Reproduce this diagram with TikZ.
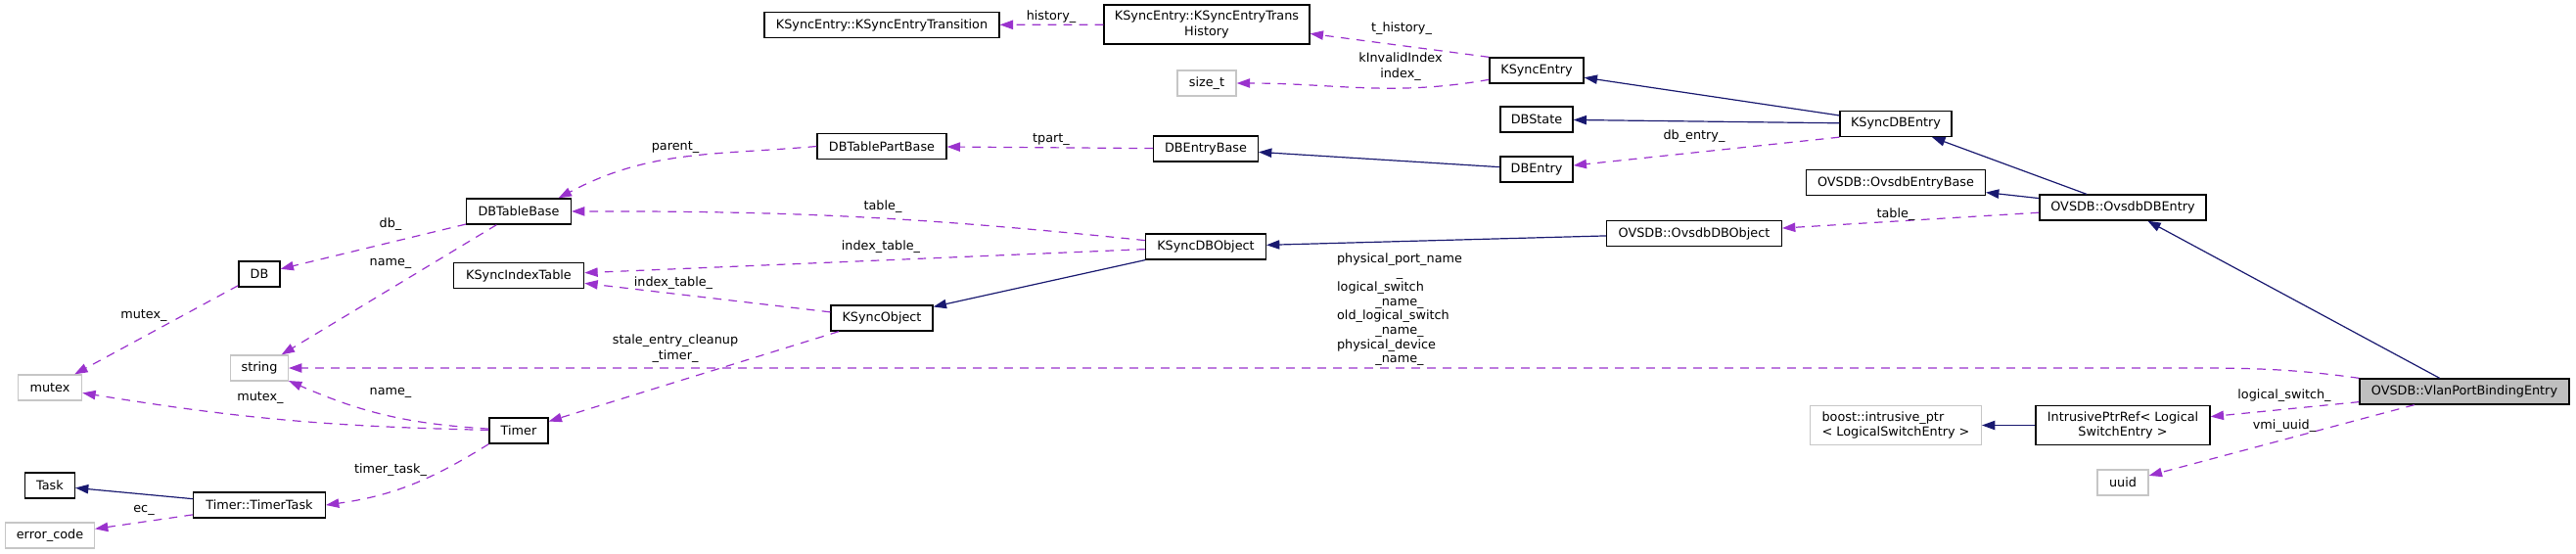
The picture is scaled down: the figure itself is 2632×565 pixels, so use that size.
\documentclass[tikz,border=0pt]{standalone}
\usepackage{fontspec}
\setmainfont{DejaVu Sans}
\usepackage{xcolor}
\usepackage{tikz}
\usetikzlibrary{arrows.meta}
\definecolor{inhcol}{HTML}{191970}
\definecolor{usecol}{HTML}{9A32CD}
\newcommand{\dotfont}{\fontsize{9.6pt}{11.5pt}\selectfont}
\tikzset{
  inherit/.style = {-{Triangle[length=10pt, width=7pt]}, draw=inhcol,
                    line width=0.9pt},
  usage/.style   = {-{Triangle[length=10pt, width=7pt]}, draw=usecol,
                    line width=0.9pt, dash pattern=on 6.5pt off 5.5pt},
  cls/.style     = {draw=black, fill=white, line width=1pt,
                    minimum height=19.5pt, inner xsep=3pt, inner ysep=2pt,
                    align=center, font=\dotfont},
  extcls/.style  = {cls, draw=gray!45},
  curcls/.style  = {cls, fill=gray!50},
  lbl/.style     = {font=\dotfont, inner sep=0pt, align=center},
}

\begin{document}
\begin{tikzpicture}[x=0.75pt, y=0.75pt]
\useasboundingbox (0,0) rectangle (2632,-565);

% ========== KSync entries ==========
\node[cls, minimum width=180pt] (ksetrans) at (901,-25.5) {KSyncEntry::KSyncEntryTransition};
\node[cls, minimum width=157.5pt, minimum height=30pt] (kshistory) at (1233,-25)
  {KSyncEntry::KSyncEntryTrans\\History};
\node[extcls, minimum width=45pt] (sizet) at (1233,-85) {size\_t};
\node[cls, minimum width=72pt] (ksyncentry) at (1570,-72) {KSyncEntry};
\node[cls, minimum width=55.5pt] (dbstate) at (1570,-122) {DBState};
\node[cls, minimum width=85.5pt] (ksyncdbentry) at (1937,-126.5) {KSyncDBEntry};
\node[cls, minimum width=55.5pt] (dbentry) at (1570,-173) {DBEntry};
\node[cls, minimum width=80pt] (dbentrybase) at (1232,-152) {DBEntryBase};
\node[cls, minimum width=99pt] (dbtablepartbase) at (901,-149.5) {DBTablePartBase};

% ========== OVSDB classes ==========
\node[cls, minimum width=137pt] (ovsdbentrybase) at (1937,-186.5) {OVSDB::OvsdbEntryBase};
\node[cls, minimum width=127.5pt] (ovsdbdbentry) at (2169,-212) {OVSDB::OvsdbDBEntry};
\node[cls, minimum width=134pt] (ovsdbdbobject) at (1731,-238.5) {OVSDB::OvsdbDBObject};
\node[curcls, minimum width=160.5pt] (vlanport) at (2518,-400) {OVSDB::VlanPortBindingEntry};
\node[cls, minimum width=133.5pt, minimum height=30pt] (intrusiveref) at (2169,-434.5)
  {IntrusivePtrRef< Logical\\SwitchEntry >};
\node[extcls, minimum width=131pt, minimum height=30pt, align=left] (boostptr) at (1937,-434.5)
  {boost::intrusive\_ptr\\< LogicalSwitchEntry >};
\node[extcls, minimum width=39pt] (uuid) at (2169,-493) {uuid};

% ========== DB tables and objects ==========
\node[cls, minimum width=92pt] (ksyncdbobject) at (1232,-252) {KSyncDBObject};
\node[cls, minimum width=78pt] (ksyncobject) at (901,-325) {KSyncObject};
\node[cls, minimum width=80pt] (dbtablebase) at (530,-216) {DBTableBase};
\node[cls, minimum width=100pt] (ksyncindextable) at (530,-281.5) {KSyncIndexTable};
\node[cls, minimum width=31.5pt] (db) at (265,-280) {DB};
\node[extcls, minimum width=44pt] (string) at (265,-376) {string};
\node[extcls, minimum width=49pt] (mutex) at (51,-396) {mutex};

% ========== Timer ==========
\node[cls, minimum width=45pt] (timer) at (530,-440) {Timer};
\node[cls, minimum width=101pt] (timertask) at (265,-516) {Timer::TimerTask};
\node[cls, minimum width=38pt] (task) at (51,-496) {Task};
\node[extcls, minimum width=68pt] (errorcode) at (51,-547) {error\_code};

% ========== inheritance ==========
\draw[inherit] (ksyncdbentry) -- (ksyncentry);
\draw[inherit] (ksyncdbentry) -- (dbstate);
\draw[inherit] (dbentry) -- (dbentrybase);
\draw[inherit] (ovsdbdbentry) -- (ksyncdbentry);
\draw[inherit] (ovsdbdbentry) -- (ovsdbentrybase);
\draw[inherit] (ovsdbdbobject) -- (ksyncdbobject);
\draw[inherit] (ksyncdbobject) -- (ksyncobject);
\draw[inherit] (vlanport) -- (ovsdbdbentry);
\draw[inherit] (intrusiveref) -- (boostptr);
\draw[inherit] (timertask) -- (task);

% ========== members ==========
\draw[usage] (kshistory) -- (ksetrans);
\draw[usage] (ksyncentry.north west) -- ([yshift=-7pt]kshistory.east);
\draw[usage] ([yshift=-7pt]ksyncentry.west) to[out=190, in=0] (sizet.east);
\draw[usage] (dbentrybase) -- (dbtablepartbase);
\draw[usage] (dbtablepartbase.west) to[out=185, in=28] ([xshift=-10pt]dbtablebase.north east);
\draw[usage] (ksyncdbentry.south west) -- (dbentry);
\draw[usage] (ovsdbdbentry) -- (ovsdbdbobject);
\draw[usage] (ksyncdbobject) to[bend right=3] (dbtablebase);
\draw[usage] (ksyncdbobject) -- (ksyncindextable);
\draw[usage] (ksyncobject) -- (ksyncindextable);
\draw[usage] (ksyncobject) -- (timer);
\draw[usage] (dbtablebase) -- (db);
\draw[usage] (dbtablebase) -- (string);
\draw[usage] (db) -- (mutex);
\draw[usage] (timer) to[bend left=4] (mutex);
\draw[usage] (timer) to[bend left=10] (string);
\draw[usage] (timer.south west) to[out=212, in=8] (timertask.east);
\draw[usage] (timertask) -- (errorcode);
\coordinate (strbend) at (2200,-376);
\draw[usage] (vlanport.north west) to[out=172, in=0] (strbend) -- (string);
\draw[usage] (vlanport) -- (intrusiveref);
\draw[usage] (vlanport) -- (uuid);

% edge labels
\node[lbl] (lhistory) at (1074,-17) {history\_};
\node[lbl] (lthistory) at (1432,-29) {t\_history\_};
\node[lbl] (lindex) at (1431,-68) {kInvalidIndex\\index\_};
\node[lbl] (ltpart) at (1074,-143) {tpart\_};
\node[lbl] (lparent) at (690,-151) {parent\_};
\node[lbl] (ldbentry) at (1731,-139) {db\_entry\_};
\node[lbl] (ltable) at (902,-211) {table\_};
\node[lbl] (lovstable) at (1937,-219) {table\_};
\node[lbl] (lindextable) at (900,-252) {index\_table\_};
\node[lbl] (lobjindex) at (688,-289) {index\_table\_};
\node[lbl] (ldb) at (399,-229) {db\_};
\node[lbl] (ldbname) at (399,-269) {name\_};
\node[lbl] (ldbmutex) at (147,-323) {mutex\_};
\node[lbl] (lstale) at (690,-356) {stale\_entry\_cleanup\\\_timer\_};
\node[lbl] (ltimername) at (399,-401) {name\_};
\node[lbl] (ltimermutex) at (266,-407) {mutex\_};
\node[lbl] (ltimertask) at (399,-480) {timer\_task\_};
\node[lbl] (lec) at (147,-521) {ec\_};
\node[lbl, font=\fontsize{9.6pt}{11pt}\selectfont] (lportnames) at (1430,-316.5)
  {\begin{tabular}{@{}l@{}}
   \multicolumn{1}{@{}c@{}}{physical\_port\_name}\\
   \multicolumn{1}{@{}c@{}}{\_}\\
   logical\_switch\\
   \multicolumn{1}{@{}c@{}}{\_name\_}\\
   old\_logical\_switch\\
   \multicolumn{1}{@{}c@{}}{\_name\_}\\
   physical\_device\\
   \multicolumn{1}{@{}c@{}}{\_name\_}
   \end{tabular}};
\node[lbl] (llogical) at (2334,-404) {logical\_switch\_};
\node[lbl] (lvmi) at (2334,-435) {vmi\_uuid\_};

\end{tikzpicture}
\end{document}
